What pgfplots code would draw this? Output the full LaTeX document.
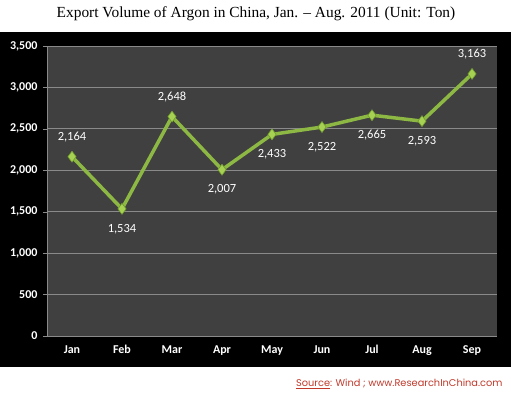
\documentclass[border=0pt]{standalone}
\usepackage{pgfplots}
\pgfplotsset{compat=1.18}
\usepackage{fontspec}
\setmainfont{Liberation Serif}
\newfontfamily\calfont{Carlito}
\newfontfamily\gothic{Poppins}
\definecolor{plotbg}{HTML}{404040}
\definecolor{linegreen}{HTML}{8DB843}
\definecolor{markfill}{HTML}{A6D152}
\definecolor{markdraw}{HTML}{6E9A2C}
\definecolor{srcred}{HTML}{C0392B}
\definecolor{gridgray}{HTML}{8A8A8A}
\begin{document}
\begin{tikzpicture}[x=1pt,y=1pt]
\useasboundingbox (0,0) rectangle (511,398);
\fill[black] (0,31) rectangle (511,366);
\node[font=\fontsize{15.4}{17}\selectfont] at (256,384) {Export Volume of Argon in China, Jan. -- Aug. 2011 (Unit: Ton)};
\node[anchor=east,text=srcred,font=\gothic\fontsize{9.8}{12}\selectfont] at (506,14) {\underline{Source}: Wind ; www.ResearchInChina.com};
\begin{axis}[
  at={(47pt,62pt)}, anchor=south west,
  scale only axis, width=450pt, height=290pt,
  xmin=-0.5, xmax=8.5, ymin=0, ymax=3500,
  axis background/.style={fill=plotbg},
  axis line style={gridgray},
  axis x line*=bottom, axis y line*=left,
  xtick={0,...,8},
  xticklabels={Jan,Feb,Mar,Apr,May,Jun,Jul,Aug,Sep},
  extra x ticks={-0.5,0.5,...,8.5},
  extra x tick labels={},
  extra x tick style={major tick length=4pt, tick style={gridgray}, grid=none},
  x tick style={draw=none},
  ytick={0,500,...,3500},
  ymajorgrids, grid style={gridgray, line width=0.8pt},
  y tick style={gridgray},
  major tick length=4pt,
  tick align=outside,
  /pgf/number format/.cd, 1000 sep={,}, assume math mode=true, /pgfplots/.cd,
  ticklabel style={text=white, font=\calfont\bfseries\fontsize{12}{14}\selectfont},
  xticklabel style={yshift=-2pt},
  yticklabel style={xshift=-2pt},
  clip=false,
  nodes near coords,
  visualization depends on={\thisrow{pos} \as \lpos},
  every node near coord/.append style={anchor=center, yshift=\lpos*20pt,
     text=white, font=\calfont\fontsize{12.5}{14}\selectfont,
     /pgf/number format/.cd, 1000 sep={,}, fixed, precision=0, assume math mode=true},
]
\addplot[color=linegreen, line width=3.5pt, line join=round,
  mark=diamond*, mark size=5.5pt, mark options={fill=markfill, draw=markdraw, line width=0.6pt}]
  table[x=x, y=y] {
x y pos
0 2164 1
1 1534 -1
2 2648 1
3 2007 -1
4 2433 -1
5 2522 -1
6 2665 -1
7 2593 -1
8 3163 1
};
\end{axis}
\end{tikzpicture}
\end{document}
